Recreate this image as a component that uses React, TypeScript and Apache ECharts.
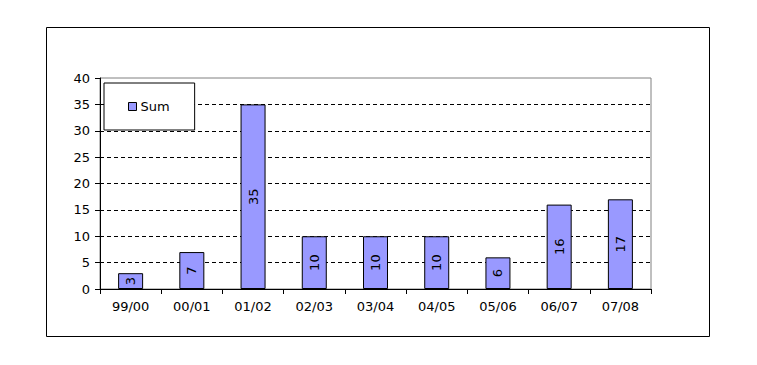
import React, { useEffect, useRef } from "react";
import * as echarts from "echarts";

const categories = ["99/00", "00/01", "01/02", "02/03", "03/04", "04/05", "05/06", "06/07", "07/08"];
const sumValues = [3, 7, 35, 10, 10, 10, 6, 16, 17];
const yTicks = { min: 0, max: 40, interval: 5 };

export default function App() {
  const ref = useRef<HTMLDivElement>(null);
  useEffect(() => {
    if (!ref.current) return;
    const chart = echarts.init(ref.current, null, { renderer: "svg" });
    const font = "'DejaVu Sans', Verdana, sans-serif";
    chart.setOption({
      animation: false,
      backgroundColor: "#fff",
      textStyle: { fontFamily: font },
      graphic: [
        {
          type: "rect",
          shape: { x: 46.5, y: 27.5, width: 663, height: 309 },
          style: { fill: "none", stroke: "#000", lineWidth: 1 },
          silent: true,
          z: -1,
        },
      ],
      grid: {
        left: 100,
        top: 78,
        right: 106,
        bottom: 76,
        show: true,
        borderColor: "#808080",
        borderWidth: 1,
        backgroundColor: "transparent",
      },
      legend: {
        data: ["Sum"],
        left: 104,
        top: 83,
        orient: "vertical",
        icon: "rect",
        backgroundColor: "#fff",
        borderColor: "#000",
        borderWidth: 1,
        borderRadius: 0,
        padding: [17, 25, 17, 24],
        itemWidth: 8,
        itemHeight: 8,
        itemGap: 4,
        z: 10,
        textStyle: { fontFamily: font, fontSize: 13, color: "#000", padding: [0, 0, 0, -1] },
        itemStyle: { borderColor: "#000", borderWidth: 1 },
      },
      xAxis: {
        type: "category",
        data: categories,
        axisLine: { lineStyle: { color: "#000", width: 1 } },
        axisTick: { show: true, alignWithLabel: false, length: 5, lineStyle: { color: "#000" } },
        axisLabel: { color: "#000", fontSize: 13, margin: 11, fontFamily: font },
        splitLine: { show: false },
      },
      yAxis: {
        type: "value",
        min: yTicks.min,
        max: yTicks.max,
        interval: yTicks.interval,
        axisLine: { show: true, lineStyle: { color: "#000", width: 1 } },
        axisTick: { show: true, length: 5, lineStyle: { color: "#000" } },
        axisLabel: { color: "#000", fontSize: 13, margin: 10, fontFamily: font },
        splitLine: {
          show: true,
          showMinLine: false,
          showMaxLine: false,
          lineStyle: { color: "#000", type: [4, 3], width: 1 },
        },
      },
      series: [
        {
          name: "Sum",
          type: "bar",
          data: sumValues,
          barWidth: 25,
          itemStyle: { color: "#9999FF", borderColor: "#000", borderWidth: 1 },
          label: {
            show: true,
            position: "inside",
            rotate: 90,
            color: "#000",
            fontSize: 13,
            fontFamily: font,
          },
        },
      ],
    });
    return () => chart.dispose();
  }, []);
  return (
    <div
      ref={ref}
      style={{ position: "fixed", left: 0, top: 0, width: 757, height: 365 }}
    />
  );
}
